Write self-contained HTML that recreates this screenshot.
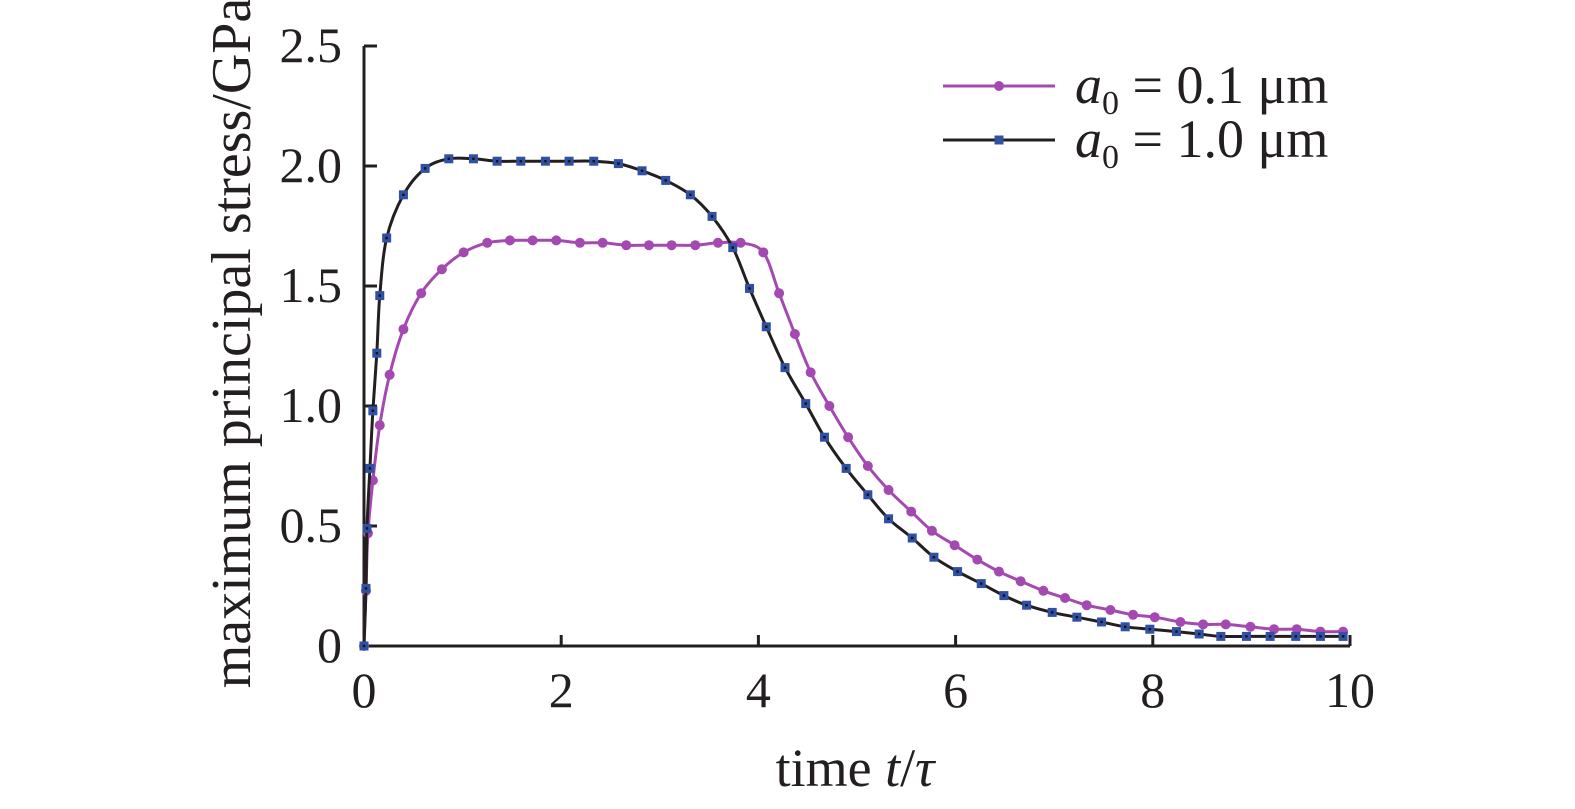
<!DOCTYPE html>
<html><head><meta charset="utf-8"><style>
body{margin:0;background:#fff}
svg{display:block;font-family:"Liberation Serif",serif}
</style></head><body>
<svg id="chart" width="1575" height="809" viewBox="0 0 1575 809"></svg>
<script>
const xTicks=[0,2,4,6,8,10];
const yTicks=[0,0.5,1.0,1.5,2.0,2.5];
const yTickLabels=["0","0.5","1.0","1.5","2.0","2.5"];
const pinkT=[0,0.02,0.04,0.09,0.16,0.26,0.40,0.58,0.79,1.01,1.25,1.48,1.71,1.95,2.19,2.42,2.66,2.89,3.12,3.36,3.59,3.82,4.05,4.21,4.37,4.53,4.72,4.91,5.11,5.32,5.55,5.76,5.99,6.22,6.44,6.66,6.89,7.11,7.33,7.57,7.80,8.02,8.28,8.51,8.74,8.99,9.23,9.46,9.70,9.93];
const pinkY=[0,0.23,0.47,0.69,0.92,1.13,1.32,1.47,1.57,1.64,1.68,1.69,1.69,1.69,1.68,1.68,1.67,1.67,1.67,1.67,1.68,1.68,1.64,1.47,1.30,1.14,1.0,0.87,0.75,0.65,0.56,0.48,0.42,0.36,0.31,0.27,0.23,0.20,0.17,0.15,0.13,0.12,0.10,0.09,0.09,0.08,0.07,0.07,0.06,0.06];
const blueT=[0,0.02,0.03,0.06,0.09,0.13,0.16,0.23,0.40,0.62,0.86,1.11,1.35,1.59,1.84,2.08,2.33,2.58,2.82,3.06,3.31,3.53,3.74,3.91,4.08,4.27,4.48,4.67,4.89,5.11,5.32,5.56,5.78,6.02,6.26,6.49,6.72,6.98,7.23,7.48,7.72,7.97,8.24,8.47,8.69,8.95,9.19,9.45,9.70,9.93];
const blueY=[0,0.24,0.49,0.74,0.98,1.22,1.46,1.70,1.88,1.99,2.03,2.03,2.02,2.02,2.02,2.02,2.02,2.01,1.98,1.94,1.88,1.79,1.66,1.49,1.33,1.16,1.01,0.87,0.74,0.63,0.53,0.45,0.37,0.31,0.26,0.21,0.17,0.14,0.12,0.10,0.08,0.07,0.06,0.05,0.04,0.04,0.04,0.04,0.04,0.04];

const X0=364,X1=1350,Y0=646,Y1=46;
const xs=t=>X0+(X1-X0)*t/10;
const ys=v=>Y0+(Y1-Y0)*v/2.5;
const NS="http://www.w3.org/2000/svg";
const svg=document.getElementById('chart');
function mk(tag,attrs,parent){const e=document.createElementNS(NS,tag);for(const k in attrs)e.setAttribute(k,attrs[k]);(parent||svg).appendChild(e);return e;}
function smooth(pts){let d=`M${pts[0][0]},${pts[0][1]}`;for(let i=0;i<pts.length-1;i++){const p0=pts[Math.max(0,i-1)],p1=pts[i],p2=pts[i+1],p3=pts[Math.min(pts.length-1,i+2)];const c1=[p1[0]+(p2[0]-p0[0])/6,p1[1]+(p2[1]-p0[1])/6],c2=[p2[0]-(p3[0]-p1[0])/6,p2[1]-(p3[1]-p1[1])/6];d+=` C${c1[0]},${c1[1]} ${c2[0]},${c2[1]} ${p2[0]},${p2[1]}`;}return d;}

const ax=mk('path',{d:`M${X0},${Y1} V${Y0} H${X1}`,stroke:'#231f20','stroke-width':3,fill:'none'});


xTicks.forEach(t=>{
  const l=mk('line',{x1:xs(t),x2:xs(t),y1:Y0,y2:Y0-11,stroke:'#231f20','stroke-width':3});
  
  
  const tx=mk('text',{x:xs(t),y:707,'text-anchor':'middle','font-size':50,fill:'#231f20'});
  tx.textContent=String(t);
  
  
});
yTicks.forEach((v,i)=>{
  const l=mk('line',{x1:X0,x2:X0+13,y1:ys(v),y2:ys(v),stroke:'#231f20','stroke-width':3});
  
  
  const tx=mk('text',{x:342,y:ys(v)+16,'text-anchor':'end','font-size':50,fill:'#231f20'});
  tx.textContent=yTickLabels[i];
  
  
});
const xt=mk('text',{x:855,y:786,'text-anchor':'middle','font-size':54,fill:'#231f20'});
xt.innerHTML='time <tspan font-style="italic">t</tspan>/<tspan font-style="italic">τ</tspan>';


const yt=mk('text',{x:0,y:0,'text-anchor':'middle','font-size':56,fill:'#231f20',transform:'translate(250,343) rotate(-90)'});
yt.textContent='maximum principal stress/GPa';



const pp=pinkT.map((t,i)=>[xs(t),ys(pinkY[i])]);
const pl=mk('path',{d:smooth(pp),stroke:'#a449b1','stroke-width':3,fill:'none'});


pp.forEach(p=>{const c=mk('circle',{cx:p[0],cy:p[1],r:5,fill:'#a449b1'});
  
  });
const bp=blueT.map((t,i)=>[xs(t),ys(blueY[i])]);
const bl=mk('path',{d:smooth(bp),stroke:'#231f20','stroke-width':3,fill:'none'});


bp.forEach(p=>{const r=mk('rect',{x:p[0]-4.5,y:p[1]-4.5,width:9,height:9,fill:'#2f50a3'});
  
  
  const d=mk('rect',{x:p[0]-1.2,y:p[1]-1.2,width:2.4,height:2.4,fill:'#111'});
  
  });

const lg=mk('g',{});


[[86,'#a449b1','0.1'],[140,'#231f20','1.0']].forEach((e,i)=>{
  const l=mk('line',{x1:943,x2:1055,y1:e[0],y2:e[0],stroke:e[1],'stroke-width':3},lg);
  
  
  if(i===0){const c=mk('circle',{cx:999,cy:e[0],r:5,fill:'#a449b1'},lg);
    
    }
  else{const r=mk('rect',{x:994.5,y:e[0]-4.5,width:9,height:9,fill:'#2f50a3'},lg);
    
    }
  const t=mk('text',{x:1075,y:e[0]+17,'font-size':54,fill:'#231f20'},lg);
  t.innerHTML=`<tspan font-style="italic">a</tspan><tspan font-size="34" dy="11">0</tspan><tspan dy="-11"> = ${e[2]} μm</tspan>`;
  
  
});
</script>
</body></html>
